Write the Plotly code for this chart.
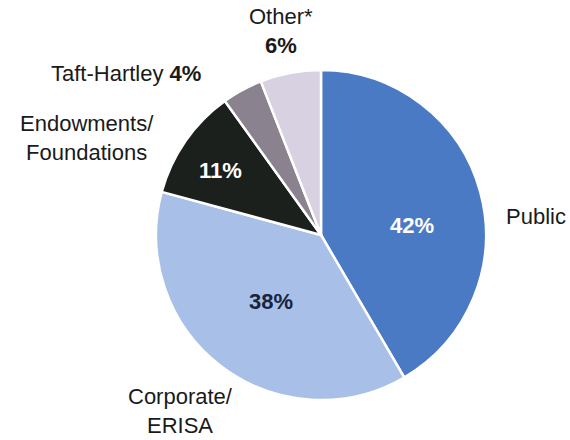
import plotly.graph_objects as go

# Plan-type shares of assets
categories = ["Public", "Corporate/ERISA", "Endowments/Foundations", "Taft-Hartley", "Other*"]
shares = [42, 38, 11, 4, 6]
colors = ["#4a7ac4", "#a8c0e8", "#1b201d", "#8b8290", "#d8d1e2"]

W, H = 570, 440
FONT = "Liberation Sans, Arial, Helvetica, sans-serif"

fig = go.Figure(
    go.Pie(
        labels=categories,
        values=shares,
        textinfo="none",
        marker=dict(colors=colors, line=dict(color="#ffffff", width=2.5)),
        sort=False,
        direction="clockwise",
        rotation=0,
        domain=dict(x=[0.2737, 0.8526], y=[0.0909, 0.8409]),
        showlegend=False,
        hoverinfo="label+value",
    )
)


def put(txt, px, py, color="#1a1a1a", size=22):
    fig.add_annotation(
        text=txt, x=px / W, y=1 - py / H, xref="paper", yref="paper",
        showarrow=False, font=dict(family=FONT, size=size, color=color),
        align="center", xanchor="center", yanchor="middle",
    )


# Percentages printed on the larger slices
put(f"<b>{shares[0]}%</b>", 412, 225, color="#ffffff")
put(f"<b>{shares[1]}%</b>", 271, 301, color="#17233f")
put(f"<b>{shares[2]}%</b>", 220, 170, color="#ffffff")

# Category labels around the pie
put("Public", 536, 216)
put("Corporate/<br>ERISA", 180, 411)
put("Endowments/<br>Foundations", 87, 138)
put(f"Taft-Hartley <b>{shares[3]}%</b>", 126, 73)
put(f"Other*<br><b>{shares[4]}%</b>", 281, 31)

fig.update_layout(
    width=W,
    height=H,
    margin=dict(l=0, r=0, t=0, b=0),
    paper_bgcolor="#ffffff",
    plot_bgcolor="#ffffff",
)

fig.write_html("out.html")
